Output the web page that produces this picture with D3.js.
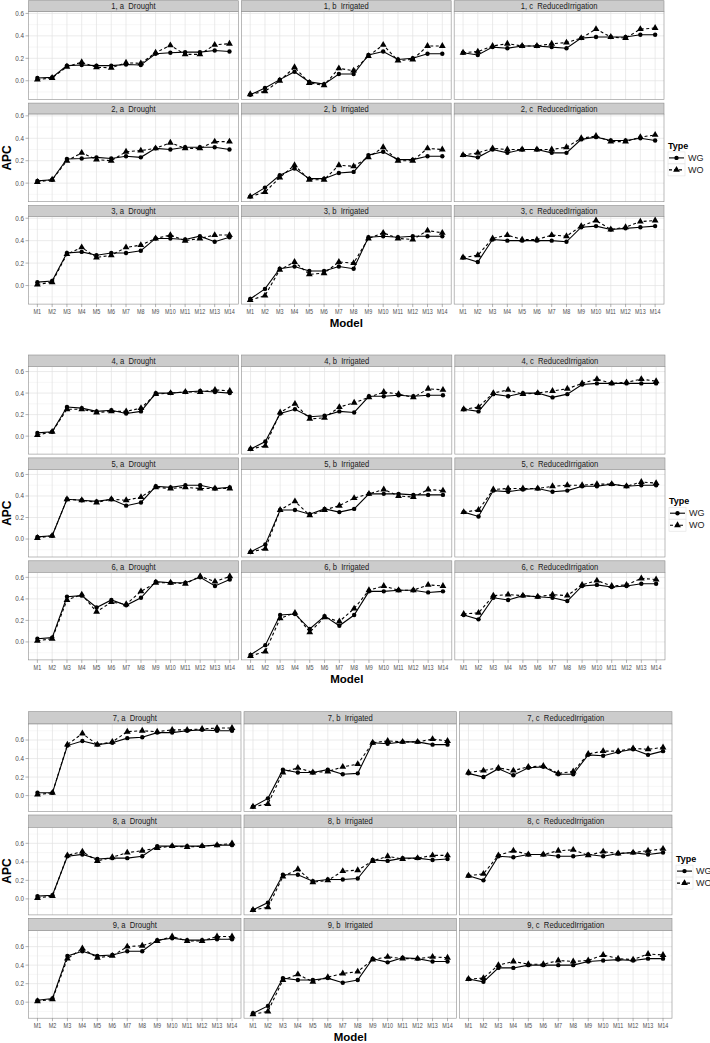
<!DOCTYPE html>
<html>
<head>
<meta charset="utf-8">
<title>APC by model</title>
<style>
	body{margin:0;background:#fff;}
	text{font-family:"Liberation Sans Narrow","Liberation Sans",Arial,sans-serif;}
</style>
</head>
<body>
<script src="https://d3js.org/d3.v7.min.js"></script>
<script>
	var models = ["M1","M2","M3","M4","M5","M6","M7","M8","M9","M10","M11","M12","M13","M14"];
	var treatments = ["a  Drought","b  Irrigated","c  ReducedIrrigation"];
	var types = ["WG","WO"];
	var yTicks = [0.0,0.2,0.4,0.6];
	var yMinor = [-0.1,0.1,0.3,0.5,0.7];

	// each scenario: [Drought, Irrigated, ReducedIrrigation], values for M1..M14
	var wg1 = [[0.025,0.03,0.135,0.14,0.135,0.135,0.145,0.14,0.24,0.25,0.255,0.255,0.27,0.26],
		[-0.125,-0.065,0.01,0.08,-0.01,-0.03,0.06,0.06,0.23,0.26,0.19,0.2,0.24,0.24],
		[0.25,0.23,0.3,0.29,0.31,0.31,0.3,0.29,0.38,0.39,0.39,0.39,0.41,0.41]];
	var wo1 = [[0.01,0.025,0.125,0.165,0.12,0.115,0.16,0.155,0.25,0.315,0.235,0.235,0.32,0.33],
		[-0.12,-0.095,0.0,0.12,-0.02,-0.04,0.11,0.09,0.22,0.32,0.18,0.19,0.31,0.31],
		[0.25,0.26,0.31,0.33,0.31,0.31,0.33,0.34,0.38,0.46,0.39,0.38,0.46,0.47]];
	var wg2 = [[0.02,0.03,0.215,0.22,0.23,0.22,0.24,0.23,0.31,0.3,0.32,0.32,0.32,0.3],
		[-0.12,-0.04,0.07,0.13,0.04,0.04,0.09,0.1,0.25,0.28,0.21,0.21,0.24,0.24],
		[0.25,0.23,0.3,0.27,0.3,0.3,0.27,0.27,0.39,0.41,0.38,0.38,0.4,0.38]];
	var wo2 = [[0.01,0.03,0.2,0.27,0.21,0.2,0.28,0.29,0.31,0.36,0.31,0.31,0.37,0.37],
		[-0.12,-0.08,0.05,0.16,0.03,0.03,0.16,0.15,0.23,0.32,0.2,0.2,0.31,0.3],
		[0.25,0.27,0.31,0.3,0.3,0.3,0.3,0.32,0.4,0.42,0.37,0.37,0.41,0.43]];
	var wg3 = [[0.03,0.04,0.29,0.3,0.27,0.29,0.29,0.31,0.42,0.42,0.41,0.44,0.39,0.43],
		[-0.12,-0.03,0.15,0.17,0.13,0.13,0.17,0.15,0.43,0.44,0.43,0.44,0.44,0.44],
		[0.25,0.21,0.41,0.4,0.4,0.4,0.4,0.39,0.52,0.53,0.5,0.51,0.52,0.53]];
	var wo3 = [[0.01,0.03,0.28,0.34,0.25,0.27,0.34,0.36,0.42,0.45,0.4,0.42,0.45,0.45],
		[-0.13,-0.09,0.14,0.21,0.1,0.11,0.21,0.2,0.42,0.47,0.42,0.41,0.49,0.47],
		[0.25,0.27,0.42,0.45,0.41,0.41,0.45,0.44,0.53,0.58,0.5,0.52,0.57,0.58]];
	var wg4 = [[0.03,0.04,0.27,0.26,0.23,0.24,0.21,0.23,0.4,0.4,0.41,0.42,0.41,0.4],
		[-0.12,-0.05,0.21,0.25,0.18,0.19,0.23,0.22,0.37,0.37,0.38,0.37,0.38,0.38],
		[0.25,0.23,0.39,0.37,0.4,0.4,0.36,0.39,0.48,0.49,0.49,0.49,0.49,0.49]];
	var wo4 = [[0.01,0.04,0.25,0.25,0.22,0.23,0.23,0.26,0.39,0.4,0.41,0.41,0.43,0.42],
		[-0.12,-0.09,0.22,0.3,0.16,0.17,0.27,0.31,0.36,0.41,0.39,0.36,0.44,0.43],
		[0.25,0.27,0.4,0.43,0.39,0.4,0.42,0.44,0.49,0.53,0.49,0.5,0.53,0.51]];
	var wg5 = [[0.02,0.03,0.37,0.36,0.35,0.37,0.31,0.34,0.49,0.48,0.5,0.5,0.47,0.48],
		[-0.12,-0.05,0.27,0.27,0.23,0.28,0.25,0.28,0.42,0.42,0.42,0.41,0.41,0.41],
		[0.25,0.21,0.45,0.44,0.46,0.47,0.44,0.45,0.49,0.49,0.51,0.49,0.5,0.5]];
	var wo5 = [[0.01,0.03,0.37,0.36,0.34,0.37,0.36,0.39,0.48,0.47,0.48,0.47,0.47,0.47],
		[-0.12,-0.09,0.27,0.35,0.22,0.27,0.31,0.38,0.42,0.46,0.4,0.39,0.46,0.45],
		[0.25,0.27,0.46,0.47,0.47,0.47,0.49,0.5,0.5,0.51,0.51,0.49,0.53,0.52]];
	var wg6 = [[0.03,0.04,0.42,0.43,0.32,0.39,0.34,0.41,0.56,0.55,0.55,0.6,0.52,0.58],
		[-0.12,-0.03,0.25,0.26,0.12,0.24,0.15,0.25,0.47,0.47,0.48,0.48,0.46,0.47],
		[0.25,0.21,0.41,0.39,0.43,0.42,0.41,0.38,0.52,0.53,0.51,0.52,0.54,0.54]];
	var wo6 = [[0.01,0.03,0.39,0.44,0.28,0.37,0.35,0.47,0.55,0.55,0.54,0.61,0.56,0.61],
		[-0.13,-0.09,0.22,0.27,0.09,0.23,0.19,0.31,0.48,0.52,0.48,0.48,0.53,0.52],
		[0.26,0.27,0.43,0.44,0.43,0.42,0.44,0.43,0.53,0.57,0.52,0.53,0.59,0.58]];
	var wg7 = [[0.03,0.03,0.54,0.59,0.55,0.57,0.62,0.63,0.68,0.68,0.7,0.71,0.7,0.7],
		[-0.12,-0.03,0.28,0.25,0.25,0.28,0.23,0.24,0.57,0.56,0.58,0.58,0.55,0.55],
		[0.24,0.2,0.29,0.22,0.3,0.31,0.23,0.23,0.44,0.43,0.47,0.5,0.44,0.48]];
	var wo7 = [[0.01,0.03,0.55,0.67,0.55,0.58,0.69,0.7,0.69,0.71,0.71,0.72,0.73,0.73],
		[-0.12,-0.09,0.25,0.3,0.25,0.26,0.31,0.34,0.57,0.59,0.58,0.58,0.61,0.59],
		[0.25,0.27,0.3,0.27,0.31,0.32,0.24,0.26,0.45,0.48,0.48,0.51,0.5,0.52]];
	var wg8 = [[0.03,0.04,0.46,0.48,0.43,0.44,0.44,0.46,0.57,0.57,0.57,0.57,0.58,0.58],
		[-0.12,-0.04,0.26,0.26,0.19,0.21,0.21,0.22,0.42,0.41,0.44,0.44,0.42,0.43],
		[0.25,0.2,0.46,0.45,0.48,0.48,0.46,0.46,0.48,0.46,0.49,0.5,0.48,0.5]];
	var wo8 = [[0.01,0.03,0.47,0.51,0.41,0.45,0.5,0.52,0.55,0.57,0.56,0.57,0.58,0.6],
		[-0.12,-0.09,0.24,0.32,0.18,0.2,0.3,0.31,0.41,0.46,0.43,0.44,0.47,0.47],
		[0.25,0.27,0.47,0.52,0.48,0.48,0.52,0.53,0.47,0.51,0.49,0.5,0.52,0.54]];
	var wg9 = [[0.02,0.04,0.5,0.55,0.5,0.51,0.55,0.55,0.67,0.69,0.67,0.67,0.68,0.68],
		[-0.12,-0.04,0.26,0.24,0.24,0.26,0.21,0.24,0.47,0.43,0.48,0.47,0.44,0.44],
		[0.25,0.22,0.37,0.37,0.4,0.4,0.4,0.4,0.44,0.45,0.46,0.45,0.47,0.47]];
	var wo9 = [[0.01,0.03,0.47,0.58,0.48,0.5,0.6,0.61,0.66,0.71,0.66,0.66,0.71,0.71],
		[-0.13,-0.1,0.24,0.3,0.22,0.27,0.31,0.33,0.46,0.49,0.47,0.47,0.49,0.48],
		[0.25,0.26,0.4,0.44,0.41,0.41,0.45,0.44,0.45,0.51,0.47,0.46,0.52,0.51]];

	var wgAll = [wg1,wg2,wg3,wg4,wg5,wg6,wg7,wg8,wg9];
	var woAll = [wo1,wo2,wo3,wo4,wo5,wo6,wo7,wo8,wo9];

	var w = 710;
	var h = 1043;
	var gap = 3;

	// three separate ggplot figures stacked on the page
	var blocks = [
		{rows:[1,2,3], top:0.7, pitch:102.4, stripH:11, panelH:87.6, left:28.5, right:664},
		{rows:[4,5,6], top:355, pitch:102.9, stripH:11.5, panelH:87.6, left:28.5, right:665},
		{rows:[7,8,9], top:711.7, pitch:103.3, stripH:12.3, panelH:87.6, left:28.5, right:672}
	];

	var svg = d3.select("body").append("svg").attr("width", w).attr("height", h);

	var tri = d3.symbol().type(d3.symbolTriangle).size(20);

	blocks.forEach(function(b){
		var vals = [];
		b.rows.forEach(function(r){
			vals = vals.concat(d3.merge(wgAll[r-1]), d3.merge(woAll[r-1]));
		});
		var ext = d3.extent(vals);
		var pad = (ext[1] - ext[0]) * 0.05;
		var pw = (b.right - b.left - 2 * gap) / 3;

		var x = d3.scalePoint().domain(models).range([0, pw]).padding(0.6);
		var y = d3.scaleLinear().domain([ext[0] - pad, ext[1] + pad]).range([b.panelH, 0]);
		var dom = y.domain();
		var majors = yTicks.filter(function(v){ return v >= dom[0] && v <= dom[1]; });
		var minors = yMinor.filter(function(v){ return v >= dom[0] && v <= dom[1]; });

		var line = d3.line().x(function(d,i){ return x(models[i]); }).y(function(d){ return y(d); });

		b.rows.forEach(function(r, ri){
			treatments.forEach(function(t, ci){
				var px = b.left + ci * (pw + gap);
				var sy = b.top + ri * b.pitch;
				var py = sy + b.stripH;

				// strip
				svg.append("rect").attr("x", px).attr("y", sy).attr("width", pw).attr("height", b.stripH)
					.attr("fill", "#cccccc").attr("stroke", "#8c8c8c").attr("stroke-width", 0.6);
				svg.append("text")
					.attr("transform", "translate(" + (px + pw / 2) + "," + (sy + b.stripH / 2) + ") scale(0.9,1)")
					.attr("dy", "0.36em").attr("text-anchor", "middle")
					.attr("font-size", 8.5).attr("fill", "#1a1a1a")
					.style("white-space", "pre")
					.text(r + ", " + t);

				var g = svg.append("g").attr("transform", "translate(" + px + "," + py + ")");

				g.append("rect").attr("width", pw).attr("height", b.panelH).attr("fill", "#fff");

				g.selectAll(".minor").data(minors).enter().append("line")
					.attr("x1", 0).attr("x2", pw)
					.attr("y1", function(d){ return y(d); }).attr("y2", function(d){ return y(d); })
					.attr("stroke", "#f2f2f2").attr("stroke-width", 0.6);
				g.selectAll(".hmaj").data(majors).enter().append("line")
					.attr("x1", 0).attr("x2", pw)
					.attr("y1", function(d){ return y(d); }).attr("y2", function(d){ return y(d); })
					.attr("stroke", "#e3e3e3").attr("stroke-width", 0.7);
				g.selectAll(".vmaj").data(models).enter().append("line")
					.attr("x1", function(d){ return x(d); }).attr("x2", function(d){ return x(d); })
					.attr("y1", 0).attr("y2", b.panelH)
					.attr("stroke", "#e3e3e3").attr("stroke-width", 0.7);

				var wg = wgAll[r-1][ci];
				var wo = woAll[r-1][ci];

				g.append("path").datum(wo).attr("d", line).attr("fill", "none")
					.attr("stroke", "#000").attr("stroke-width", 1.1).attr("stroke-dasharray", "3,2.5");
				g.append("path").datum(wg).attr("d", line).attr("fill", "none")
					.attr("stroke", "#000").attr("stroke-width", 1.1);

				g.selectAll(".wo").data(wo).enter().append("path")
					.attr("d", tri)
					.attr("transform", function(d,i){ return "translate(" + x(models[i]) + "," + y(d) + ")"; })
					.attr("fill", "#000");
				g.selectAll(".wg").data(wg).enter().append("circle")
					.attr("cx", function(d,i){ return x(models[i]); })
					.attr("cy", function(d){ return y(d); })
					.attr("r", 2.2).attr("fill", "#000");

				g.append("rect").attr("width", pw).attr("height", b.panelH)
					.attr("fill", "none").attr("stroke", "#8c8c8c").attr("stroke-width", 0.6);

				// y axis on first column
				if (ci === 0) {
					g.selectAll(".yt").data(majors).enter().append("line")
						.attr("x1", -3).attr("x2", 0)
						.attr("y1", function(d){ return y(d); }).attr("y2", function(d){ return y(d); })
						.attr("stroke", "#7f7f7f").attr("stroke-width", 0.6);
					g.selectAll(".yl").data(majors).enter().append("text")
						.attr("transform", function(d){ return "translate(-4.5," + y(d) + ") scale(0.9,1)"; })
						.attr("dy", "0.35em").attr("text-anchor", "end")
						.attr("font-size", 7).attr("fill", "#4d4d4d")
						.text(function(d){ return d3.format(".1f")(d); });
				}
				// x axis on bottom row
				if (ri === 2) {
					g.selectAll(".xt").data(models).enter().append("line")
						.attr("x1", function(d){ return x(d); }).attr("x2", function(d){ return x(d); })
						.attr("y1", b.panelH).attr("y2", b.panelH + 3)
						.attr("stroke", "#7f7f7f").attr("stroke-width", 0.6);
					g.selectAll(".xl").data(models).enter().append("text")
						.attr("transform", function(d){ return "translate(" + x(d) + "," + (b.panelH + 10) + ") scale(0.78,1)"; })
						.attr("text-anchor", "middle")
						.attr("font-size", 7).attr("fill", "#4d4d4d")
						.text(function(d){ return d; });
				}
			});
		});

		var panelsTop = b.top + b.stripH;
		var panelsBottom = b.top + 2 * b.pitch + b.stripH + b.panelH;
		var mid = (panelsTop + panelsBottom) / 2;

		svg.append("text").attr("transform", "translate(11," + mid + ") rotate(-90)")
			.attr("text-anchor", "middle").attr("font-size", 12).attr("font-weight", "bold")
			.style("font-family", "'Liberation Sans',Arial,sans-serif")
			.text("APC");

		svg.append("text").attr("x", b.left + (b.right - b.left) / 2).attr("y", panelsBottom + 23)
			.attr("text-anchor", "middle").attr("font-size", 11.5).attr("font-weight", "bold")
			.style("font-family", "'Liberation Sans',Arial,sans-serif")
			.text("Model");

		// legend
		var lx = b.right + 4;
		var lg = svg.append("g").attr("transform", "translate(" + lx + "," + (mid - 12) + ")");
		lg.append("text").attr("x", 0).attr("y", 0).attr("dy", "0.35em")
			.attr("font-size", 9).attr("font-weight", "bold")
			.style("font-family", "'Liberation Sans',Arial,sans-serif")
			.text("Type");
		types.forEach(function(tp, k){
			var ky = 12 + k * 12;
			lg.append("rect").attr("x", 0).attr("y", ky - 6).attr("width", 17).attr("height", 12)
				.attr("fill", "#fff").attr("stroke", "#e0e0e0").attr("stroke-width", 0.6);
			lg.append("line").attr("x1", 1).attr("x2", 16).attr("y1", ky).attr("y2", ky)
				.attr("stroke", "#000").attr("stroke-width", 1.1)
				.attr("stroke-dasharray", tp === "WO" ? "3,2" : null);
			if (tp === "WG") {
				lg.append("circle").attr("cx", 8.5).attr("cy", ky).attr("r", 2.2).attr("fill", "#000");
			} else {
				lg.append("path").attr("d", tri).attr("transform", "translate(8.5," + ky + ")").attr("fill", "#000");
			}
			lg.append("text").attr("x", 20).attr("y", ky).attr("dy", "0.35em")
				.attr("font-size", 9).attr("fill", "#1a1a1a")
				.style("font-family", "'Liberation Sans',Arial,sans-serif")
				.text(tp);
		});
	});
</script>
</body>
</html>
